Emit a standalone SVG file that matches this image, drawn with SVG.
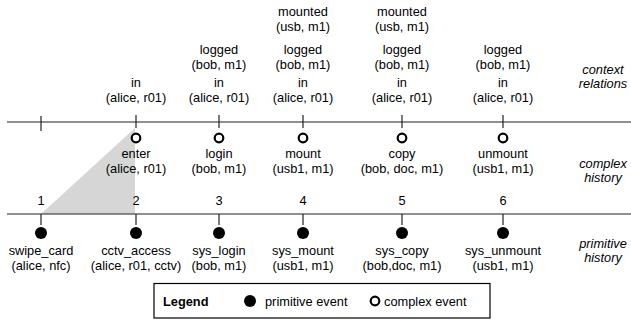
<svg xmlns="http://www.w3.org/2000/svg" width="631" height="320" viewBox="0 0 631 320">
<style>
text{font-family:"Liberation Sans",Arial,Helvetica,sans-serif;font-size:12.8px;fill:#000;text-anchor:middle}
.it{font-style:italic}
.b{font-weight:bold;text-anchor:start}
.st{text-anchor:start}
.ln{stroke:#222;stroke-width:1.2;fill:none}
.open{fill:#fff;stroke:#000;stroke-width:2.2}
.fill{fill:#000}
</style>
<rect width="631" height="320" fill="#fff"/>
<polygon points="41,214 135,128 135,214" fill="#d6d6d6"/>
<g id="connectors">
<line class="ln" x1="7" y1="122" x2="631" y2="122"/>
<line class="ln" x1="7" y1="214" x2="631" y2="214"/>
<line class="ln" x1="41" y1="116" x2="41" y2="131"/>
<line class="ln" x1="136" y1="115" x2="136" y2="128"/>
<line class="ln" x1="219" y1="115" x2="219" y2="128"/>
<line class="ln" x1="303" y1="115" x2="303" y2="128"/>
<line class="ln" x1="402" y1="115" x2="402" y2="128"/>
<line class="ln" x1="503" y1="115" x2="503" y2="128"/>
<line class="ln" x1="41" y1="214" x2="41" y2="225"/>
<line class="ln" x1="136" y1="214" x2="136" y2="225"/>
<line class="ln" x1="219" y1="214" x2="219" y2="225"/>
<line class="ln" x1="303" y1="214" x2="303" y2="225"/>
<line class="ln" x1="402" y1="214" x2="402" y2="225"/>
<line class="ln" x1="503" y1="214" x2="503" y2="225"/>
</g>
<g id="ctx1"><text x="136" y="87">in</text><text x="136" y="102">(alice, r01)</text></g>
<g id="ctx2"><text x="219" y="54">logged</text><text x="219" y="69">(bob, m1)</text><text x="219" y="87">in</text><text x="219" y="102">(alice, r01)</text></g>
<g id="ctx3"><text x="303" y="16">mounted</text><text x="303" y="31">(usb, m1)</text><text x="303" y="54">logged</text><text x="303" y="69">(bob, m1)</text><text x="303" y="87">in</text><text x="303" y="102">(alice, r01)</text></g>
<g id="ctx4"><text x="402" y="16">mounted</text><text x="402" y="31">(usb, m1)</text><text x="402" y="54">logged</text><text x="402" y="69">(bob, m1)</text><text x="402" y="87">in</text><text x="402" y="102">(alice, r01)</text></g>
<g id="ctx5"><text x="503" y="54">logged</text><text x="503" y="69">(bob, m1)</text><text x="503" y="87">in</text><text x="503" y="102">(alice, r01)</text></g>
<g id="c-enter"><circle class="open" cx="136" cy="138" r="4.3"/><text x="136" y="158">enter</text><text x="136" y="173">(alice, r01)</text></g>
<g id="c-login"><circle class="open" cx="219" cy="138" r="4.3"/><text x="219" y="158">login</text><text x="219" y="173">(bob, m1)</text></g>
<g id="c-mount"><circle class="open" cx="303" cy="138" r="4.3"/><text x="303" y="158">mount</text><text x="303" y="173">(usb1, m1)</text></g>
<g id="c-copy"><circle class="open" cx="402" cy="138" r="4.3"/><text x="402" y="158">copy</text><text x="402" y="173">(bob, doc, m1)</text></g>
<g id="c-unmount"><circle class="open" cx="503" cy="138" r="4.3"/><text x="503" y="158">unmount</text><text x="503" y="173">(usb1, m1)</text></g>
<g id="p1"><text x="41" y="205">1</text><circle class="fill" cx="41" cy="233" r="6"/><text x="41" y="255">swipe_card</text><text x="41" y="270">(alice, nfc)</text></g>
<g id="p2"><text x="136" y="205">2</text><circle class="fill" cx="136" cy="233" r="6"/><text x="136" y="255">cctv_access</text><text x="136" y="270">(alice, r01, cctv)</text></g>
<g id="p3"><text x="219" y="205">3</text><circle class="fill" cx="219" cy="233" r="6"/><text x="219" y="255">sys_login</text><text x="219" y="270">(bob, m1)</text></g>
<g id="p4"><text x="303" y="205">4</text><circle class="fill" cx="303" cy="233" r="6"/><text x="303" y="255">sys_mount</text><text x="303" y="270">(usb1, m1)</text></g>
<g id="p5"><text x="402" y="205">5</text><circle class="fill" cx="402" cy="233" r="6"/><text x="402" y="255">sys_copy</text><text x="402" y="270">(bob,doc, m1)</text></g>
<g id="p6"><text x="503" y="205">6</text><circle class="fill" cx="503" cy="233" r="6"/><text x="503" y="255">sys_unmount</text><text x="503" y="270">(usb1, m1)</text></g>
<g id="labels">
<text class="it" x="603" y="74">context</text><text class="it" x="603" y="88">relations</text>
<text class="it" x="603" y="168">complex</text><text class="it" x="603" y="182">history</text>
<text class="it" x="603" y="248">primitive</text><text class="it" x="603" y="262">history</text>
</g>
<g id="legend">
<rect x="154" y="283.5" width="336" height="34.5" fill="#fff" stroke="#000" stroke-width="1.2"/>
<text class="b" x="163" y="306">Legend</text>
<circle class="fill" cx="250" cy="301" r="6"/>
<text class="st" x="265" y="306">primitive event</text>
<circle class="open" cx="375" cy="301" r="4.3"/>
<text class="st" x="384" y="306">complex event</text>
</g>
</svg>
